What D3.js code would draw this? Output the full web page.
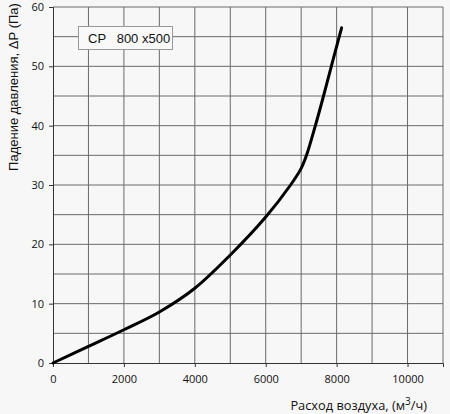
<!DOCTYPE html>
<html lang="ru">
<head>
    <meta charset="UTF-8">
    <title>CP 800x500</title>
    <script src="https://cdnjs.cloudflare.com/ajax/libs/d3/7.8.5/d3.min.js"></script>
    <style>
        body { margin: 0; background: #f7f7f7; }
        svg { display: block; }
        .tick text { font-family: "Open Sans", sans-serif; font-size: 11px; fill: #111; }
    </style>
</head>
<body>
<svg width="450" height="414"></svg>
<script>
    // airflow (m3/h) vs pressure drop (Pa)
    const flow = [0, 1000, 2000, 3000, 4000, 5000, 6000, 6700, 7000, 7150, 7400, 7630, 7850, 8140];
    const pressure = [0, 2.8, 5.6, 8.6, 12.6, 18.2, 24.6, 30, 32.8, 35, 40, 45, 50, 56.5];
    const xTicks = [0, 2000, 4000, 6000, 8000, 10000];
    const yTicks = [0, 10, 20, 30, 40, 50, 60];
    const legendText = "CP   800 x500";

    const margin = {left: 53, right: 7, top: 7, bottom: 51};
    const width = 450 - margin.left - margin.right;
    const height = 414 - margin.top - margin.bottom;

    const svg = d3.select("svg");
    const g = svg.append("g").attr("transform", `translate(${margin.left},${margin.top})`);

    const x = d3.scaleLinear().domain([0, 11000]).range([0, width]);
    const y = d3.scaleLinear().domain([0, 60]).range([height, 0]);

    // grid
    g.append("g").selectAll("line")
        .data(d3.range(1000, 11001, 1000))
        .enter().append("line")
        .attr("x1", d => x(d)).attr("x2", d => x(d))
        .attr("y1", 0).attr("y2", height)
        .attr("stroke", "#6a6a6a").attr("stroke-width", 1);
    g.append("g").selectAll("line")
        .data(d3.range(5, 61, 5))
        .enter().append("line")
        .attr("x1", 0).attr("x2", width)
        .attr("y1", d => y(d)).attr("y2", d => y(d))
        .attr("stroke", "#6a6a6a").attr("stroke-width", 1);

    // axes
    g.append("g")
        .attr("transform", `translate(0,${height})`)
        .call(d3.axisBottom(x).tickValues(xTicks).tickSize(4).tickPadding(8).tickFormat(d3.format("d")))
        .call(a => a.select(".domain").attr("stroke", "#333"))
        .call(a => a.selectAll(".tick line").attr("stroke", "#333"));
    g.append("g")
        .call(d3.axisLeft(y).tickValues(yTicks).tickSize(4).tickPadding(5))
        .call(a => a.select(".domain").attr("stroke", "#333"))
        .call(a => a.selectAll(".tick line").attr("stroke", "#333"));

    // curve
    const line = d3.line()
        .x((d, i) => x(flow[i]))
        .y(d => y(d))
        .curve(d3.curveCatmullRom.alpha(0.5));
    g.append("path")
        .datum(pressure)
        .attr("d", line)
        .attr("fill", "none")
        .attr("stroke", "#000")
        .attr("stroke-width", 3)
        .attr("stroke-linecap", "round");

    // legend box
    g.append("rect")
        .attr("x", 25.5).attr("y", 19.5)
        .attr("width", 94).attr("height", 23)
        .attr("fill", "#f9f9f9").attr("stroke", "#999");
    g.append("text")
        .attr("x", 35).attr("y", 35.5)
        .attr("font-family", "Liberation Sans, Arial, sans-serif")
        .attr("font-size", 13)
        .attr("fill", "#111")
        .attr("xml:space", "preserve")
        .text(legendText);

    // axis titles
    svg.append("text")
        .attr("transform", "translate(18,87) rotate(-90)")
        .attr("text-anchor", "middle")
        .attr("font-family", "Liberation Sans, Arial, sans-serif")
        .attr("font-size", 13)
        .attr("fill", "#111")
        .text("Падение давления, ΔР (Па)");

    const xt = svg.append("text")
        .attr("x", 427).attr("y", 410)
        .attr("text-anchor", "end")
        .attr("font-family", "Open Sans, sans-serif")
        .attr("font-size", 12.8)
        .attr("fill", "#111");
    xt.append("tspan").text("Расход воздуха, (м");
    xt.append("tspan").attr("dy", -5).attr("font-size", 10).text("3");
    xt.append("tspan").attr("dy", 5).text("/ч)");
</script>
</body>
</html>
